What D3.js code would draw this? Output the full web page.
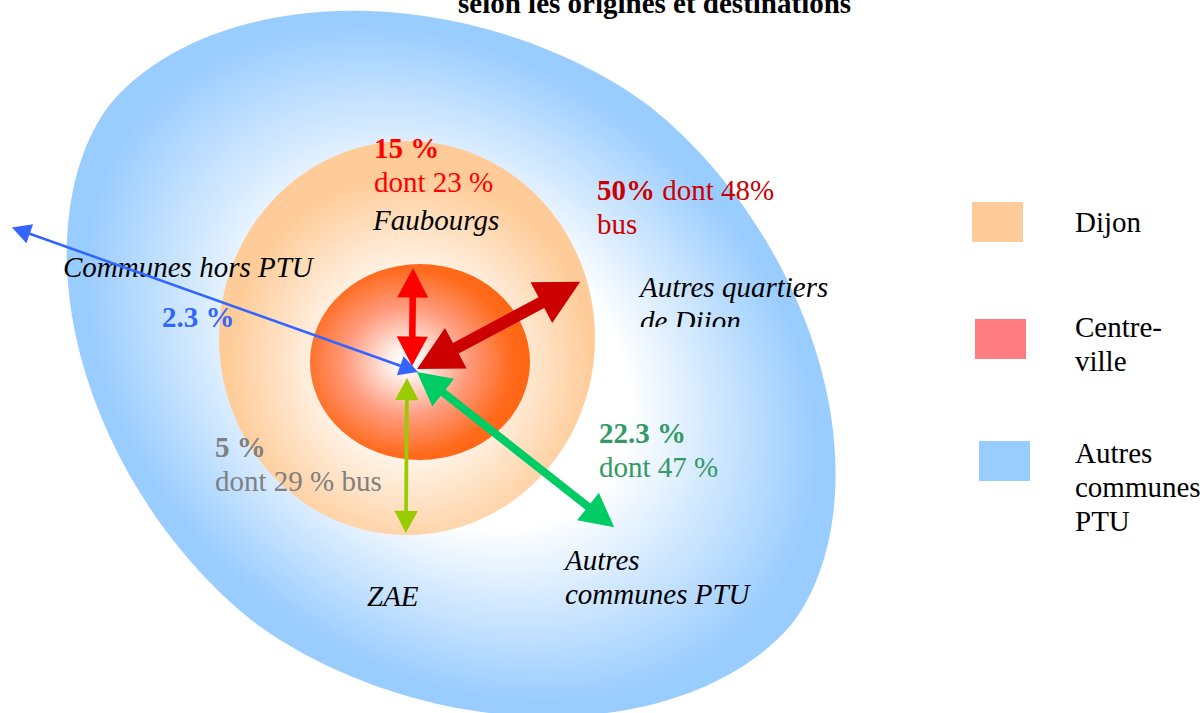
<!DOCTYPE html>
<html>
<head>
<meta charset="utf-8">
<script src="https://cdn.jsdelivr.net/npm/d3@7"></script>
<style>
  body { margin: 0; background: #fff; }
  svg { display: block; font-family: "Liberation Serif", "Times New Roman", serif; }
</style>
</head>
<body>
<div id="chart"></div>
<script>
// --------------------------------------------------------------
// Trips leaving the centre-ville, by destination (share + bus share)
// --------------------------------------------------------------

// Data
const destinations = ["Faubourgs", "Autres quartiers de Dijon", "Autres communes PTU", "ZAE", "Communes hors PTU"];
const shares = [15, 50, 22.3, 5, 2.3];       // % of trips
const busShares = [23, 48, 47, 29, null];    // % of those trips made by bus
const zones = ["Dijon", "Centre-ville", "Autres communes PTU"];
const titleText = "selon les origines et destinations";

// Styles
const arrowColors = ["#ff0000", "#cc0000", "#00cc66", "#99cc00", "#3366ff"];
const labelColors = ["#ff0000", "#cc0000", "#339966", "#808080", "#3366ff"];
const zoneColors = ["#ffcc99", "#ff7c80", "#99ccff"];

// Layout
const width = 1203, height = 713;
const hub = [413, 370];
// arrow: offset of the inner tip from hub, direction (deg, clockwise from north), length
const arrowLayout = [
  {ox: -1, oy: -4, angle: 0.6,   len: 98},
  {ox: 4,  oy: -1, angle: 61.9,  len: 185},
  {ox: 4,  oy: 2,  angle: 128.2, len: 251},
  {ox: -6, oy: 8,  angle: 180.4, len: 155},
  {ox: 5,  oy: 2,  angle: 289.6, len: 431}
];
// value label + name label positions
const labelLayout = [
  {x: 374, y: 158, nx: 373, ny: 230, names: ["Faubourgs"]},
  {x: 597, y: 200, nx: 640, ny: 297, names: ["Autres quartiers", "de Dijon"], inline: true},
  {x: 599, y: 443, nx: 565, ny: 570, names: ["Autres", "communes PTU"]},
  {x: 215, y: 457, nx: 367, ny: 606, names: ["ZAE"], busWord: true},
  {x: 162, y: 327, nx: 63,  ny: 277, names: ["Communes hors PTU"]}
];
// points traced on the edge of the outer zone; a rotated superellipse is fitted through them
const outerTrace = [
  [300, 14], [335, 13], [480, 40], [540, 45], [627, 86], [690, 136], [740, 191],
  [783, 264], [813, 341], [827, 409], [828, 455], [823, 523], [807, 591], [773, 650],
  [730, 691], [364, 667], [150, 500], [68, 380], [70, 300], [78, 200]
];
const lineH = 34;
const fontSize = 29;

// fit [cx, cy, a, b, angle, n] by plain coordinate descent
function fitOutline(pts) {
  let p = [448, 370, 415, 312, 37, 2];
  const step = [8, 8, 8, 8, 2, 0.2];
  const err = q => d3.sum(pts, ([x, y]) => {
    const t = q[4] * Math.PI / 180, c = Math.cos(t), s = Math.sin(t);
    const X = x - q[0], Y = y - q[1];
    const u = X * c + Y * s, v = -X * s + Y * c;
    const r = Math.pow(Math.pow(Math.abs(u / q[2]), q[5]) + Math.pow(Math.abs(v / q[3]), q[5]), 1 / q[5]);
    return (r - 1) ** 2;
  });
  let best = err(p);
  for (let it = 0; it < 600; it++) {
    let improved = false;
    for (let k = 0; k < p.length; k++) {
      for (const dir of [1, -1]) {
        const q = p.slice();
        q[k] += dir * step[k];
        if (q[5] < 1.6 || q[5] > 3) continue;
        const e = err(q);
        if (e < best) { best = e; p = q; improved = true; }
      }
    }
    if (!improved) step.forEach((s, k) => step[k] = s / 2);
  }
  return p;
}
const [ocx, ocy, oa, ob, oang, on] = fitOutline(outerTrace);
const outline = d3.range(0, 2 * Math.PI, Math.PI / 120).map(t => {
  const cu = Math.cos(t), sv = Math.sin(t);
  const u = oa * Math.sign(cu) * Math.pow(Math.abs(cu), 2 / on);
  const v = ob * Math.sign(sv) * Math.pow(Math.abs(sv), 2 / on);
  const r = oang * Math.PI / 180;
  return [ocx + u * Math.cos(r) - v * Math.sin(r), ocy + u * Math.sin(r) + v * Math.cos(r)];
});

const svg = d3.select("#chart")
  .append("svg")
  .attr("width", width)
  .attr("height", height);

const defs = svg.append("defs");

// gradients for the three zones
function radial(id, cx, cy, r, stops) {
  const g = defs.append("radialGradient")
    .attr("id", id)
    .attr("cx", cx).attr("cy", cy).attr("r", r)
    .attr("fx", cx).attr("fy", cy);
  g.selectAll("stop")
    .data(stops)
    .join("stop")
    .attr("offset", d => d[0])
    .attr("stop-color", d => d[1]);
  return g;
}
radial("gBlue", 0, 0, 1, [[0, "#ffffff"], [0.45, "#ffffff"], [0.93, zoneColors[2]], [1, zoneColors[2]]])
  .attr("gradientUnits", "userSpaceOnUse")
  .attr("gradientTransform", `translate(${ocx},${ocy}) rotate(${oang}) scale(${oa},${ob})`);
radial("gOrange", 0.51, 0.57, 0.55, [[0, "#ffffff"], [0.3, "#ffffff"], [0.88, zoneColors[0]], [1, zoneColors[0]]]);
radial("gRed", 0.44, 0.5, 0.56, [[0, "#ffffff"], [0.12, "#fff4f0"], [0.5, "#ff9a7c"], [0.85, "#ff6a1c"], [1, "#ff6611"]]);

defs.append("clipPath")
  .attr("id", "clipDijon")
  .append("rect")
  .attr("x", 600).attr("y", 260).attr("width", 260).attr("height", 67);

// Zones (outer to inner)
svg.append("path")
  .attr("d", d3.line()(outline) + "Z")
  .attr("fill", "url(#gBlue)");

const innerZones = [
  {cx: 407, cy: 338, rx: 188, ry: 197, fill: "url(#gOrange)"},
  {cx: 420, cy: 362, rx: 110, ry: 98,  fill: "url(#gRed)"}
];
svg.append("g")
  .selectAll("ellipse")
  .data(innerZones)
  .join("ellipse")
  .attr("cx", d => d.cx)
  .attr("cy", d => d.cy)
  .attr("rx", d => d.rx)
  .attr("ry", d => d.ry)
  .attr("fill", d => d.fill);

// Title (its first line sits above the visible area)
svg.append("text")
  .attr("x", 458)
  .attr("y", 13)
  .style("font-size", fontSize + "px")
  .style("font-weight", "bold")
  .text(titleText);

// Labels
const labels = svg.append("g").style("font-size", fontSize + "px");

destinations.forEach((name, i) => {
  const L = labelLayout[i];
  const sep = L.inline ? "" : " ";
  const t = labels.append("text")
    .attr("x", L.x).attr("y", L.y)
    .attr("fill", labelColors[i]);
  t.append("tspan")
    .style("font-weight", "bold")
    .text(shares[i] + sep + "%");
  if (busShares[i] != null) {
    const dont = "dont " + busShares[i] + sep + "%";
    if (L.inline) {
      t.append("tspan").text(" " + dont);
      t.append("tspan").attr("x", L.x).attr("dy", lineH).text("bus");
    } else {
      t.append("tspan").attr("x", L.x).attr("dy", lineH)
        .text(dont + (L.busWord ? " bus" : ""));
    }
  }

  const n = labels.append("text")
    .attr("x", L.nx).attr("y", L.ny)
    .style("font-style", "italic")
    .attr("fill", "#000");
  if (i === 1) n.attr("clip-path", "url(#clipDijon)");
  n.selectAll("tspan")
    .data(L.names)
    .join("tspan")
    .attr("x", L.nx)
    .attr("dy", (d, k) => k === 0 ? 0 : lineH)
    .text(d => d);
});

// Arrows: shaft width and head size follow the share
const shaftW = d3.scaleSqrt().domain([0, 50]).range([0, 12]);
const headL = d3.scaleSqrt().domain([0, 50]).range([12, 44]);
const headW = d3.scaleSqrt().domain([0, 50]).range([13, 46]);

function doubleArrow(p0, p1, w, hl, hw) {
  const dx = p1[0] - p0[0], dy = p1[1] - p0[1];
  const L = Math.hypot(dx, dy);
  const ux = dx / L, uy = dy / L, nx = -uy, ny = ux;
  const pt = (base, along, side) => [base[0] + ux * along + nx * side, base[1] + uy * along + ny * side];
  const pts = [
    p0,
    pt(p0, hl, hw / 2), pt(p0, hl, w / 2),
    pt(p1, -hl, w / 2), pt(p1, -hl, hw / 2),
    p1,
    pt(p1, -hl, -hw / 2), pt(p1, -hl, -w / 2),
    pt(p0, hl, -w / 2), pt(p0, hl, -hw / 2)
  ];
  return d3.line()(pts) + "Z";
}

const arrows = destinations.map((name, i) => {
  const a = arrowLayout[i];
  const p0 = [hub[0] + a.ox, hub[1] + a.oy];
  const r = d3.pointRadial(a.angle * Math.PI / 180, a.len);
  return {name, share: shares[i], color: arrowColors[i], p0, p1: [p0[0] + r[0], p0[1] + r[1]]};
});

svg.append("g")
  .selectAll("path")
  .data(arrows)
  .join("path")
  .attr("d", d => doubleArrow(d.p0, d.p1, shaftW(d.share), headL(d.share), headW(d.share)))
  .attr("fill", d => d.color);

// Legend
const legendLayout = [
  {rx: 972, ry: 202, lines: ["Dijon"], ty: 232},
  {rx: 975, ry: 319, lines: ["Centre-", "ville"], ty: 337},
  {rx: 979, ry: 441, lines: ["Autres", "communes", "PTU"], ty: 463}
];
const legend = svg.append("g").style("font-size", fontSize + "px");
legend.selectAll("rect")
  .data(zones)
  .join("rect")
  .attr("x", (d, i) => legendLayout[i].rx)
  .attr("y", (d, i) => legendLayout[i].ry)
  .attr("width", 51)
  .attr("height", 40)
  .attr("fill", (d, i) => zoneColors[i]);

legend.selectAll("text")
  .data(zones)
  .join("text")
  .attr("x", 1075)
  .attr("y", (d, i) => legendLayout[i].ty)
  .selectAll("tspan")
  .data((d, i) => legendLayout[i].lines)
  .join("tspan")
  .attr("x", 1075)
  .attr("dy", (d, k) => k === 0 ? 0 : lineH)
  .text(d => d);
</script>
</body>
</html>
